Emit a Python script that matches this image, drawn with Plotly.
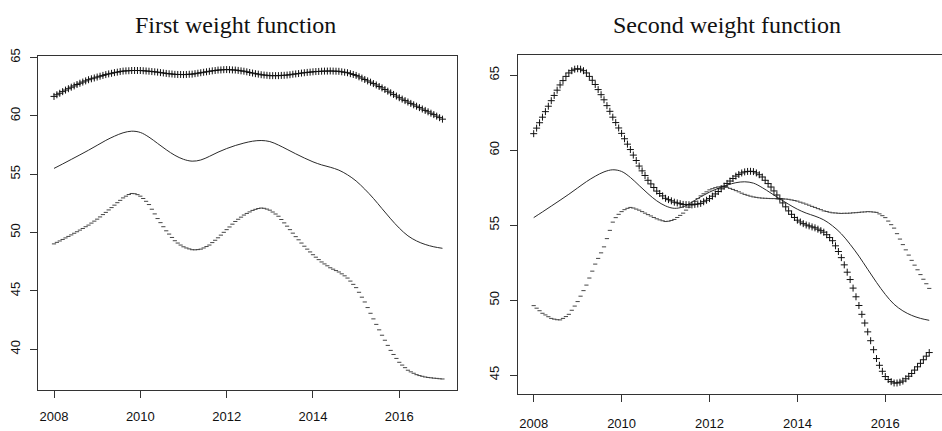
import plotly.graph_objects as go

# ---------------- data ----------------
# marker series are sampled 15 times per year, 2008 .. 2017
t_marks = [2008 + k / 15 for k in range(136)]
# solid reference curve sampled 5 times per year
t_line = [2008 + k / 5 for k in range(46)]

solid_line = [55.50, 55.88, 56.27, 56.66, 57.06, 57.48, 57.90, 58.26, 58.55, 58.69,
              58.58, 58.18, 57.64, 57.10, 56.62, 56.28, 56.12, 56.22, 56.53, 56.89,
              57.20, 57.46, 57.67, 57.83, 57.89, 57.80, 57.50, 57.13, 56.75, 56.39,
              56.06, 55.80, 55.60, 55.35, 54.95, 54.42, 53.72, 52.93, 52.05, 51.18,
              50.38, 49.72, 49.28, 48.98, 48.78, 48.65]

first_plus = [61.67, 61.81, 61.94, 62.08, 62.21, 62.33, 62.46, 62.57, 62.69, 62.80, 62.90, 63.00,
              63.10, 63.18, 63.25, 63.33, 63.40, 63.47, 63.54, 63.60, 63.65, 63.71, 63.75, 63.80,
              63.84, 63.86, 63.87, 63.89, 63.89, 63.89, 63.89, 63.87, 63.85, 63.83, 63.80, 63.78,
              63.75, 63.71, 63.68, 63.64, 63.61, 63.59, 63.56, 63.55, 63.55, 63.54, 63.55, 63.57,
              63.58, 63.62, 63.66, 63.70, 63.74, 63.78, 63.82, 63.86, 63.89, 63.93, 63.94, 63.96,
              63.97, 63.96, 63.94, 63.93, 63.90, 63.86, 63.83, 63.78, 63.72, 63.67, 63.62, 63.58,
              63.53, 63.50, 63.48, 63.45, 63.45, 63.45, 63.45, 63.47, 63.48, 63.50, 63.53, 63.57,
              63.60, 63.63, 63.67, 63.70, 63.73, 63.75, 63.78, 63.80, 63.81, 63.83, 63.84, 63.84,
              63.85, 63.84, 63.83, 63.82, 63.78, 63.74, 63.70, 63.62, 63.55, 63.47, 63.35, 63.24,
              63.12, 63.00, 62.89, 62.77, 62.65, 62.52, 62.40, 62.26, 62.12, 61.98, 61.84, 61.70,
              61.56, 61.44, 61.31, 61.19, 61.07, 60.95, 60.83, 60.71, 60.59, 60.47, 60.35, 60.23,
              60.11, 59.98, 59.85, 59.72]

first_dash = [49.03, 49.16, 49.28, 49.41, 49.54, 49.67, 49.80, 49.94, 50.07, 50.21, 50.35, 50.50,
              50.64, 50.81, 50.98, 51.15, 51.34, 51.54, 51.73, 51.94, 52.14, 52.35, 52.56, 52.76,
              52.97, 53.12, 53.26, 53.35, 53.33, 53.25, 53.12, 52.92, 52.68, 52.40, 52.00, 51.60,
              51.20, 50.85, 50.50, 50.15, 49.87, 49.58, 49.30, 49.10, 48.93, 48.78, 48.68, 48.60,
              48.53, 48.52, 48.54, 48.58, 48.68, 48.80, 48.93, 49.14, 49.34, 49.55, 49.78, 50.02,
              50.25, 50.48, 50.72, 50.95, 51.14, 51.32, 51.50, 51.64, 51.77, 51.90, 51.99, 52.06,
              52.10, 52.08, 52.01, 51.92, 51.76, 51.59, 51.40, 51.12, 50.83, 50.55, 50.25, 49.95,
              49.65, 49.38, 49.10, 48.83, 48.58, 48.34, 48.10, 47.89, 47.68, 47.48, 47.31, 47.15,
              46.98, 46.86, 46.74, 46.62, 46.46, 46.29, 46.10, 45.84, 45.56, 45.28, 44.88, 44.46,
              44.05, 43.57, 43.08, 42.60, 42.13, 41.66, 41.20, 40.77, 40.33, 39.90, 39.55, 39.21,
              38.88, 38.64, 38.42, 38.20, 38.06, 37.94, 37.82, 37.74, 37.68, 37.62, 37.58, 37.55,
              37.52, 37.50, 37.47, 37.45]

second_plus = [61.10, 61.47, 61.83, 62.20, 62.57, 62.93, 63.30, 63.65, 64.00, 64.35, 64.64, 64.92,
               65.15, 65.30, 65.40, 65.43, 65.40, 65.30, 65.15, 64.92, 64.66, 64.38, 64.04, 63.70,
               63.36, 62.97, 62.59, 62.20, 61.84, 61.48, 61.12, 60.76, 60.40, 60.04, 59.67, 59.31,
               58.94, 58.62, 58.31, 57.99, 57.75, 57.51, 57.27, 57.11, 56.95, 56.79, 56.70, 56.62,
               56.53, 56.48, 56.43, 56.38, 56.37, 56.36, 56.35, 56.38, 56.41, 56.45, 56.56, 56.66,
               56.77, 56.93, 57.08, 57.24, 57.42, 57.60, 57.78, 57.94, 58.11, 58.27, 58.38, 58.48,
               58.55, 58.58, 58.59, 58.57, 58.48, 58.36, 58.21, 57.99, 57.77, 57.54, 57.28, 57.01,
               56.75, 56.48, 56.22, 55.95, 55.72, 55.51, 55.33, 55.21, 55.10, 55.01, 54.95, 54.88,
               54.82, 54.73, 54.63, 54.53, 54.36, 54.17, 53.96, 53.62, 53.24, 52.83, 52.35, 51.86,
               51.37, 50.80, 50.22, 49.64, 49.05, 48.47, 47.88, 47.29, 46.69, 46.10, 45.65, 45.25,
               44.90, 44.70, 44.56, 44.47, 44.47, 44.52, 44.60, 44.75, 44.92, 45.10, 45.33, 45.55,
               45.78, 46.02, 46.26, 46.50]

second_dash = [49.63, 49.46, 49.29, 49.12, 49.01, 48.89, 48.78, 48.73, 48.69, 48.68, 48.78, 48.90,
               49.05, 49.32, 49.60, 49.90, 50.26, 50.63, 51.00, 51.47, 51.93, 52.40, 52.78, 53.15,
               53.55, 54.10, 54.65, 55.20, 55.50, 55.72, 55.90, 56.03, 56.12, 56.18, 56.14, 56.07,
               56.00, 55.90, 55.80, 55.70, 55.61, 55.51, 55.42, 55.35, 55.29, 55.24, 55.26, 55.31,
               55.38, 55.51, 55.65, 55.80, 56.00, 56.20, 56.40, 56.59, 56.77, 56.95, 57.09, 57.22,
               57.35, 57.43, 57.50, 57.55, 57.55, 57.54, 57.52, 57.45, 57.38, 57.30, 57.22, 57.13,
               57.05, 56.99, 56.93, 56.88, 56.85, 56.82, 56.80, 56.79, 56.78, 56.77, 56.77, 56.76,
               56.76, 56.75, 56.74, 56.72, 56.68, 56.64, 56.60, 56.53, 56.47, 56.40, 56.33, 56.25,
               56.18, 56.10, 56.03, 55.95, 55.91, 55.86, 55.82, 55.81, 55.79, 55.78, 55.79, 55.79,
               55.80, 55.82, 55.83, 55.85, 55.87, 55.88, 55.90, 55.89, 55.87, 55.85, 55.75, 55.63,
               55.50, 55.27, 55.03, 54.80, 54.43, 54.07, 53.70, 53.35, 53.00, 52.65, 52.33, 52.02,
               51.70, 51.39, 51.09, 50.78]

x_ticks = [2008, 2010, 2012, 2014, 2016]
y_ticks_first = [40, 45, 50, 55, 60, 65]
y_ticks_second = [45, 50, 55, 60, 65]
titles = ["First weight function", "Second weight function"]

# ---------------- figure ----------------
W, H = 942, 431
INK = "#2a2a2a"
AXC = "#333333"

fig = go.Figure()

plus_style = dict(mode="markers", marker=dict(symbol="cross-thin", size=5,
                                              line=dict(width=1, color="#111111")),
                  showlegend=False, hoverinfo="skip")
dash_style = dict(mode="markers", marker=dict(symbol="line-ew", size=3,
                                              line=dict(width=1, color="#444444")),
                  showlegend=False, hoverinfo="skip")
line_style = dict(mode="lines", line=dict(color=INK, width=1, shape="spline"),
                  showlegend=False, hoverinfo="skip")

# left panel
fig.add_trace(go.Scatter(x=t_line, y=solid_line, xaxis="x", yaxis="y", **line_style))
fig.add_trace(go.Scatter(x=t_marks, y=first_dash, xaxis="x", yaxis="y", **dash_style))
fig.add_trace(go.Scatter(x=t_marks, y=first_plus, xaxis="x", yaxis="y", **plus_style))
# right panel
fig.add_trace(go.Scatter(x=t_line, y=solid_line, xaxis="x2", yaxis="y2", **line_style))
fig.add_trace(go.Scatter(x=t_marks, y=second_dash, xaxis="x2", yaxis="y2", **dash_style))
fig.add_trace(go.Scatter(x=t_marks, y=second_plus, xaxis="x2", yaxis="y2", **plus_style))

tickfont = dict(family="Liberation Sans, Arial, sans-serif", size=13, color="#111111")
common = dict(showgrid=False, zeroline=False, showline=True, linecolor=AXC, linewidth=1,
              ticks="outside", ticklen=7, tickwidth=1, tickcolor=AXC, tickfont=tickfont)

# left panel geometry (pixels)
L_x0, L_x1, L_yt, L_yb = 37.7, 457.0, 49.3, 392.7
# right panel geometry (pixels)
R_x0, R_yt, R_yb = 517.6, 48.3, 397.3

fig.update_layout(
    width=W, height=H, margin=dict(l=0, r=0, t=0, b=0),
    paper_bgcolor="white", plot_bgcolor="white",
    xaxis=dict(domain=[L_x0 / W, L_x1 / W], range=[2007.622, 2017.337], anchor="y",
               tickvals=x_ticks, mirror=True, ticklabelstandoff=8, **common),
    yaxis=dict(domain=[1 - L_yb / H, 1 - L_yt / H], range=[36.525, 65.14], anchor="x",
               tickvals=y_ticks_first, tickangle=-90, mirror=True, ticklabelstandoff=5, **common),
    xaxis2=dict(domain=[R_x0 / W, 1.0], range=[2007.634, 2017.29], anchor="y2",
                tickvals=x_ticks, mirror=True, ticklabelstandoff=10, **common),
    yaxis2=dict(domain=[1 - R_yb / H, 1 - R_yt / H], range=[43.72, 66.35], anchor="x2",
                tickvals=y_ticks_second, tickangle=-90, mirror=False, ticklabelstandoff=5, **common),
)

title_font = dict(family="Liberation Serif, Times New Roman, serif", size=24, color="#111111")
fig.add_annotation(text=titles[0], xref="paper", yref="paper", x=235 / W, y=1 - 17 / H,
                   xanchor="center", yanchor="middle", showarrow=False, font=title_font)
fig.add_annotation(text=titles[1], xref="paper", yref="paper", x=727 / W, y=1 - 18 / H,
                   xanchor="center", yanchor="middle", showarrow=False, font=title_font)

fig.write_html("out.html")
